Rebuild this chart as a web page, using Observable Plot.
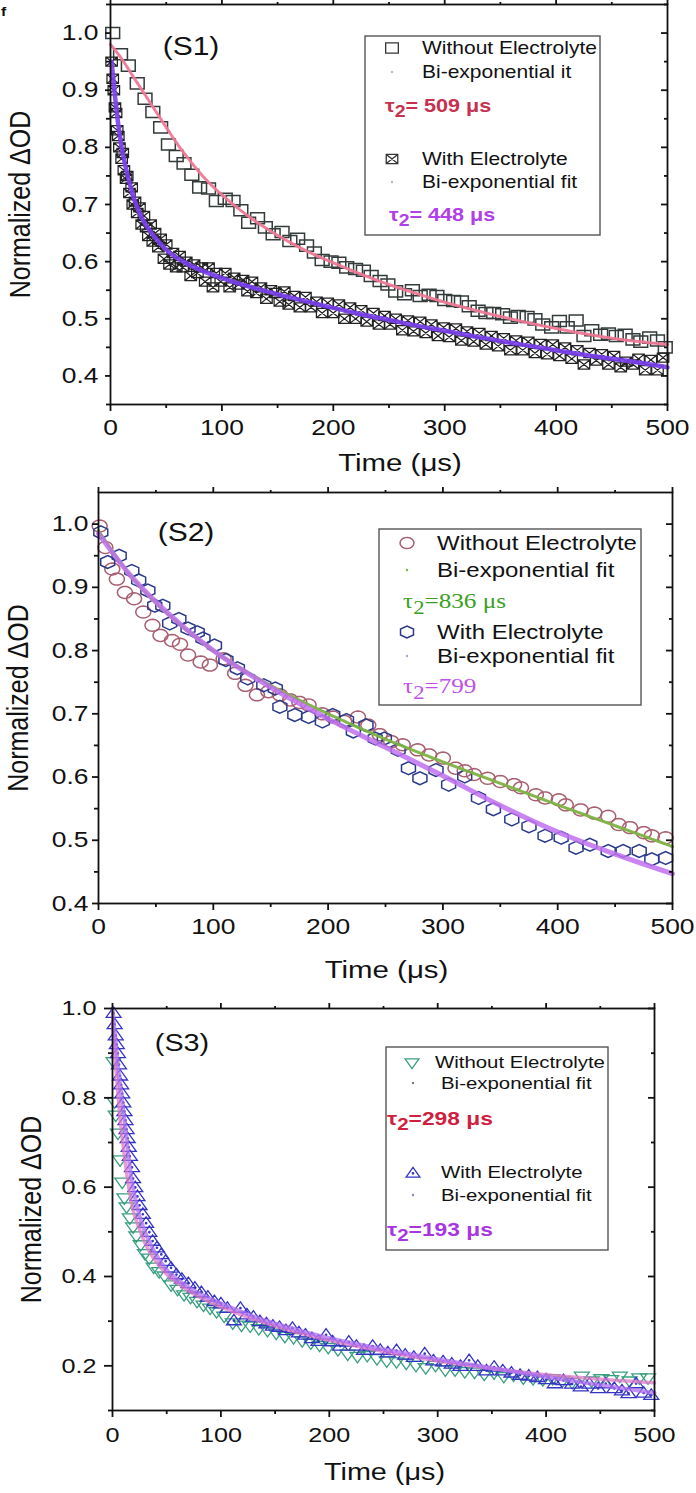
<!DOCTYPE html>
<html><head><meta charset="utf-8">
<script src="https://cdn.jsdelivr.net/npm/d3@7"></script>
<script src="https://cdn.jsdelivr.net/npm/@observablehq/plot@0.6"></script>
<style>
body{margin:0;background:#fff;}
#wrap{position:relative;width:696px;height:1493px;overflow:hidden;font-family:"Liberation Sans",Arial,sans-serif;background:#fff;}
</style></head><body><div id="wrap"></div>
<script>
// ---------- DATA ----------
const xTicks = [0, 100, 200, 300, 400, 500];
const xMinorTicks = [50, 150, 250, 350, 450];
const yTicksS1 = [0.4, 0.5, 0.6, 0.7, 0.8, 0.9, 1.0];
const yMinorS1 = [0.35, 0.45, 0.55, 0.65, 0.75, 0.85, 0.95, 1.05];
const yTicksS2 = [0.4, 0.5, 0.6, 0.7, 0.8, 0.9, 1.0];
const yMinorS2 = [0.45, 0.55, 0.65, 0.75, 0.85, 0.95];
const yTicksS3 = [0.2, 0.4, 0.6, 0.8, 1.0];
const yMinorS3 = [0.1, 0.3, 0.5, 0.7, 0.9];

// S1: without electrolyte (open squares) [time µs, normalized ΔOD]
const s1Without = [[2,1.0],[9,0.963],[16,0.943],[24,0.912],[31,0.885],[38,0.862],[45,0.835],[52,0.805],[59,0.785],[66,0.772],[73,0.752],[80,0.73],[88,0.728],[95,0.706],[103,0.71],[110,0.706],[117,0.69],[124,0.668],[132,0.676],[139,0.66],[146,0.648],[154,0.652],[161,0.636],[168,0.64],[176,0.628],[183,0.616],[190,0.603],[198,0.6],[205,0.598],[212,0.59],[220,0.587],[227,0.584],[234,0.575],[242,0.566],[249,0.56],[256,0.548],[264,0.543],[271,0.55],[278,0.54],[286,0.542],[293,0.54],[300,0.533],[308,0.531],[315,0.53],[322,0.522],[330,0.514],[337,0.51],[344,0.51],[352,0.508],[359,0.502],[366,0.505],[374,0.503],[381,0.499],[388,0.49],[396,0.485],[403,0.496],[410,0.485],[418,0.497],[425,0.47],[432,0.48],[440,0.472],[447,0.474],[454,0.47],[462,0.472],[469,0.464],[476,0.46],[484,0.467],[491,0.462],[498,0.45]];
// S1: with electrolyte (boxed X)
const s1With = [[1,0.95],[2,0.92],[3,0.9],[4,0.87],[5,0.86],[6,0.83],[7,0.82],[8,0.8],[10,0.78],[11,0.79],[12,0.76],[14,0.745],[15,0.75],[17,0.72],[19,0.73],[20,0.7],[22,0.705],[24,0.685],[26,0.695],[28,0.665],[30,0.68],[32,0.66],[34,0.645],[36,0.665],[38,0.635],[40,0.65],[43,0.625],[45,0.64],[48,0.605],[50,0.63],[53,0.595],[56,0.615],[59,0.59],[62,0.61],[65,0.59],[68,0.6],[72,0.575],[75,0.595],[78,0.58],[82,0.59],[85,0.565],[88,0.59],[92,0.555],[95,0.58],[99,0.565],[103,0.58],[107,0.555],[111,0.572],[115,0.56],[119,0.568],[123,0.548],[127,0.565],[131,0.545],[135,0.555],[140,0.535],[144,0.55],[148,0.545],[152,0.53],[156,0.548],[160,0.525],[165,0.54],[170,0.52],[175,0.538],[180,0.52],[185,0.53],[190,0.51],[195,0.528],[200,0.51],[205,0.525],[210,0.5],[215,0.52],[220,0.5],[225,0.515],[230,0.495],[236,0.51],[241,0.49],[246,0.505],[251,0.49],[256,0.5],[262,0.48],[267,0.497],[272,0.478],[278,0.495],[283,0.475],[288,0.49],[294,0.47],[299,0.485],[304,0.468],[310,0.483],[315,0.462],[320,0.478],[326,0.46],[331,0.475],[337,0.455],[342,0.47],[348,0.452],[353,0.466],[359,0.445],[364,0.462],[370,0.445],[375,0.46],[381,0.44],[386,0.456],[392,0.438],[397,0.455],[403,0.435],[408,0.45],[414,0.43],[419,0.445],[425,0.42],[430,0.44],[436,0.427],[441,0.438],[447,0.42],[452,0.435],[458,0.415],[463,0.425],[469,0.42],[474,0.43],[480,0.41],[485,0.428],[491,0.41],[496,0.432]];
const s1WithoutFit = [[0,0.98],[10,0.955],[20,0.925],[30,0.895],[40,0.865],[50,0.835],[60,0.806],[70,0.78],[80,0.756],[90,0.735],[100,0.717],[120,0.685],[140,0.658],[160,0.635],[180,0.615],[200,0.598],[225,0.578],[250,0.56],[275,0.544],[300,0.529],[325,0.516],[350,0.504],[375,0.493],[400,0.483],[425,0.474],[450,0.466],[475,0.46],[500,0.455]];
const s1WithFit = [[1,0.95],[2,0.93],[4,0.89],[6,0.855],[8,0.825],[10,0.8],[12,0.78],[14,0.762],[16,0.746],[18,0.731],[20,0.717],[25,0.69],[30,0.67],[35,0.655],[40,0.642],[45,0.631],[50,0.621],[60,0.606],[70,0.595],[80,0.586],[90,0.578],[100,0.571],[125,0.556],[150,0.543],[175,0.531],[200,0.519],[225,0.508],[250,0.498],[275,0.488],[300,0.479],[325,0.47],[350,0.461],[375,0.453],[400,0.445],[425,0.437],[450,0.43],[475,0.423],[500,0.415]];

// S2
const s2Without = [[1,0.997],[6,0.963],[12,0.929],[16,0.913],[23,0.892],[31,0.882],[39,0.861],[47,0.84],[54,0.824],[64,0.816],[71,0.81],[78,0.793],[89,0.782],[97,0.777],[109,0.787],[119,0.764],[128,0.745],[138,0.73],[148,0.735],[158,0.73],[167,0.722],[175,0.718],[183,0.714],[195,0.7],[204,0.695],[214,0.688],[226,0.695],[235,0.682],[245,0.667],[255,0.656],[265,0.651],[278,0.643],[288,0.635],[300,0.63],[311,0.614],[319,0.61],[327,0.604],[339,0.598],[350,0.593],[362,0.588],[368,0.583],[381,0.572],[389,0.567],[401,0.564],[407,0.556],[420,0.548],[432,0.543],[444,0.538],[453,0.525],[463,0.52],[475,0.512],[482,0.507],[494,0.504]];
const s2With = [[2,0.987],[8,0.94],[18,0.95],[29,0.926],[35,0.911],[43,0.895],[49,0.871],[56,0.871],[62,0.843],[70,0.85],[78,0.835],[86,0.829],[91,0.819],[101,0.808],[111,0.785],[121,0.772],[130,0.756],[144,0.745],[154,0.74],[158,0.711],[171,0.698],[183,0.695],[195,0.688],[204,0.698],[216,0.69],[222,0.672],[233,0.682],[241,0.661],[249,0.661],[261,0.643],[270,0.614],[280,0.598],[294,0.611],[305,0.588],[319,0.601],[331,0.567],[344,0.549],[360,0.533],[375,0.522],[389,0.507],[403,0.504],[416,0.488],[428,0.493],[444,0.483],[457,0.483],[471,0.483],[482,0.47],[494,0.472]];
const s2WithoutFit = [[0,0.99],[25,0.925],[50,0.875],[75,0.835],[100,0.8],[150,0.745],[200,0.7],[250,0.66],[300,0.624],[350,0.59],[400,0.556],[450,0.523],[500,0.49]];
const s2WithFit = [[0,0.985],[25,0.925],[50,0.877],[75,0.836],[100,0.8],[150,0.742],[200,0.692],[250,0.647],[300,0.602],[350,0.555],[400,0.513],[450,0.478],[500,0.447]];

// S3
const s3Without = [[1,0.88],[2,0.79],[3,0.76],[5,0.72],[7,0.66],[9,0.61],[11,0.575],[13,0.555],[16,0.53],[19,0.51],[22,0.49],[26,0.47],[30,0.45],[34,0.44],[38,0.42],[43,0.41],[48,0.4],[54,0.38],[60,0.37],[66,0.358],[72,0.352],[78,0.343],[84,0.335],[90,0.328],[96,0.32],[103,0.31],[111,0.295],[119,0.29],[127,0.288],[135,0.282],[143,0.278],[151,0.272],[159,0.265],[167,0.262],[175,0.255],[183,0.25],[191,0.245],[199,0.24],[208,0.235],[217,0.225],[226,0.22],[235,0.222],[244,0.215],[253,0.21],[262,0.208],[271,0.205],[280,0.2],[289,0.195],[298,0.2],[307,0.19],[316,0.19],[325,0.186],[334,0.185],[343,0.18],[352,0.183],[361,0.175],[370,0.178],[379,0.172],[388,0.17],[397,0.168],[406,0.17],[415,0.165],[424,0.162],[433,0.176],[442,0.165],[451,0.17],[460,0.168],[468,0.176],[477,0.165],[486,0.172],[494,0.172]];
const s3With = [[1,0.99],[2,0.965],[3,0.94],[4,0.92],[5,0.9],[6,0.875],[7,0.85],[8,0.83],[9,0.81],[10,0.79],[11,0.77],[12,0.75],[13,0.73],[14,0.71],[15,0.69],[16,0.67],[18,0.645],[19,0.62],[21,0.6],[23,0.58],[25,0.56],[28,0.54],[31,0.52],[34,0.5],[37,0.48],[41,0.465],[45,0.45],[49,0.435],[54,0.42],[59,0.405],[64,0.395],[70,0.385],[76,0.375],[82,0.365],[88,0.355],[94,0.345],[100,0.34],[106,0.33],[112,0.302],[118,0.33],[124,0.315],[130,0.31],[136,0.3],[142,0.295],[148,0.29],[154,0.287],[160,0.28],[166,0.285],[172,0.275],[178,0.27],[184,0.262],[190,0.256],[197,0.27],[203,0.255],[210,0.245],[218,0.254],[225,0.245],[232,0.236],[240,0.245],[247,0.236],[254,0.23],[262,0.235],[270,0.225],[278,0.22],[288,0.228],[296,0.212],[305,0.21],[313,0.205],[321,0.2],[329,0.213],[337,0.2],[345,0.19],[352,0.198],[360,0.19],[368,0.185],[376,0.18],[384,0.178],[392,0.175],[400,0.17],[408,0.161],[416,0.168],[424,0.16],[432,0.154],[440,0.16],[448,0.15],[455,0.161],[463,0.15],[470,0.145],[476,0.139],[483,0.161],[490,0.14],[497,0.135]];
const s3WithoutFit = [[0,0.97],[2,0.9],[4,0.84],[6,0.78],[8,0.73],[10,0.69],[12,0.65],[15,0.6],[18,0.56],[20,0.54],[25,0.505],[30,0.475],[35,0.452],[40,0.434],[50,0.405],[60,0.385],[70,0.368],[80,0.354],[100,0.332],[120,0.313],[140,0.297],[160,0.282],[180,0.269],[200,0.257],[225,0.244],[250,0.232],[275,0.221],[300,0.211],[325,0.202],[350,0.194],[375,0.187],[400,0.18],[425,0.175],[450,0.17],[475,0.166],[500,0.162]];
const s3WithFit = [[0,1.0],[2,0.95],[4,0.9],[6,0.85],[8,0.81],[10,0.77],[12,0.73],[15,0.665],[18,0.61],[20,0.585],[25,0.535],[30,0.5],[35,0.472],[40,0.45],[50,0.415],[60,0.393],[70,0.376],[80,0.362],[100,0.34],[120,0.32],[140,0.302],[160,0.288],[180,0.274],[200,0.262],[225,0.249],[250,0.237],[275,0.226],[300,0.215],[325,0.205],[350,0.195],[375,0.185],[400,0.175],[425,0.166],[450,0.157],[475,0.148],[500,0.139]];

// ---------- SYMBOLS ----------
const SX = 1.15, SY = 0.92;
const makeSym = fn => ({draw(c, size) { fn(c, Math.sqrt(size / Math.PI)); }});
const rectPath = (c, w, h) => { c.moveTo(-w,-h); c.lineTo(w,-h); c.lineTo(w,h); c.lineTo(-w,h); c.closePath(); };
const symSquare = makeSym((c, r) => rectPath(c, r*SX, r*SY));
const symBoxX = makeSym((c, r) => { const w=r*SX, h=r*SY; rectPath(c,w,h); c.moveTo(-w,-h); c.lineTo(w,h); c.moveTo(w,-h); c.lineTo(-w,h); });
const symEllipse = makeSym((c, r) => { const n=28; for (let i=0;i<n;i++){ const a=2*Math.PI*i/n, px=Math.cos(a)*r*SX, py=Math.sin(a)*r*SY; if(i) c.lineTo(px,py); else c.moveTo(px,py);} c.closePath(); });
const symHex = makeSym((c, r) => { for (let i=0;i<6;i++){ const a=Math.PI/2+i*Math.PI/3, px=Math.cos(a)*r*SX, py=Math.sin(a)*r*SY; if(i) c.lineTo(px,py); else c.moveTo(px,py);} c.closePath(); });
const symTriUp = makeSym((c, r) => { const w=r*SX, h=r*SY; c.moveTo(0,-h); c.lineTo(w,h*0.75); c.lineTo(-w,h*0.75); c.closePath(); c.moveTo(0.7,0.3); c.arc(0,0.3,0.7,0,2*Math.PI); });
const symTriDown = makeSym((c, r) => { const w=r*SX, h=r*SY; c.moveTo(0,h); c.lineTo(w,-h*0.75); c.lineTo(-w,-h*0.75); c.closePath(); });

// ---------- PANELS ----------
const wrap = document.getElementById("wrap");
const FONT = '"Liberation Sans", Arial, sans-serif';
const STRETCH = 1.2; // the reference lettering is horizontally widened
const X = d => d[0], Y = d => d[1];
const isNum = v => v != null && v !== "" && !isNaN(+v);

function widenText(svg) {
  svg.querySelectorAll("text").forEach(t => {
    let x = 0, y = 0;
    const ax = t.getAttribute("x"), ay = t.getAttribute("y");
    if (isNum(ax)) { x = +ax; t.removeAttribute("x"); }
    if (isNum(ay)) { y = +ay; t.removeAttribute("y"); }
    const tr = t.getAttribute("transform") || "";
    const sc = /rotate/.test(tr) ? `scale(1,${STRETCH})` : `scale(${STRETCH},1)`;
    t.setAttribute("transform", `${tr} translate(${x},${y}) ${sc}`);
  });
}

function panel(cfg) {
  const chart = Plot.plot({
    width: 696, height: cfg.height,
    marginLeft: cfg.ml, marginRight: cfg.mr, marginTop: cfg.mt, marginBottom: cfg.mb,
    x: {domain: [0, 500]},
    y: {domain: cfg.ydom},
    style: {fontFamily: FONT, fontSize: "22px", color: "#111", background: "transparent", overflow: "visible"},
    marks: [
      ...cfg.marks,
      Plot.frame({stroke: "#111", strokeWidth: 1.8}),
      Plot.axisX({ticks: xTicks, tickSize: 7, tickPadding: cfg.xpad, tickFormat: d => String(d), label: null, strokeWidth: 1.8, fontSize: cfg.tfs}),
      Plot.axisX({ticks: xMinorTicks, tickSize: 4, tickFormat: () => "", label: null, strokeWidth: 1.8}),
      Plot.axisX({anchor: "top", ticks: xTicks, tickSize: 6, tickFormat: () => "", label: null, strokeWidth: 1.8}),
      Plot.axisX({anchor: "top", ticks: xMinorTicks, tickSize: 3, tickFormat: () => "", label: null, strokeWidth: 1.8}),
      Plot.axisY({ticks: cfg.ymaj, tickSize: cfg.ytick, tickPadding: cfg.ypad, tickFormat: d3.format(".1f"), label: null, strokeWidth: 1.8, fontSize: cfg.tfs}),
      Plot.axisY({ticks: cfg.ymin, tickSize: 4, tickFormat: () => "", label: null, strokeWidth: 1.8}),
      Plot.axisY({anchor: "right", ticks: cfg.ymaj, tickSize: -7, tickFormat: () => "", label: null, strokeWidth: 1.8}),
      Plot.axisY({anchor: "right", ticks: cfg.ymin, tickSize: -4, tickFormat: () => "", label: null, strokeWidth: 1.8}),
      Plot.text(["Time (μs)"], {text: d => d, frameAnchor: "bottom", textAnchor: "middle", lineAnchor: "middle", dx: cfg.xldx, dy: cfg.xldy, fontSize: cfg.lfs, fill: "#111"}),
      Plot.text(["Normalized ΔOD"], {text: d => d, frameAnchor: "left", textAnchor: "middle", lineAnchor: "middle", rotate: -90, dx: cfg.yldx, fontSize: cfg.ylfs, fill: "#111"})
    ]
  });
  widenText(chart);
  chart.style.position = "absolute";
  chart.style.left = "0px";
  chart.style.top = cfg.top + "px";
  wrap.appendChild(chart);
}

panel({
  top: 0, height: 480, ml: 110, mr: 29, mt: 4, mb: 76, ydom: [0.35, 1.05],
  ymaj: yTicksS1, ymin: yMinorS1, ytick: 5, ypad: 7, xpad: 8, tfs: 22, lfs: 24.5, ylfs: 25,
  xldx: 11, xldy: 59, yldx: -90,
  marks: [
    Plot.dot(s1Without, {x: X, y: Y, symbol: symSquare, r: 6, stroke: "#333b3b", strokeWidth: 1.5, fill: "none"}),
    Plot.dot(s1With, {x: X, y: Y, symbol: symBoxX, r: 5, stroke: "#222", strokeWidth: 1.25, fill: "none"}),
    Plot.line(s1WithoutFit, {x: X, y: Y, stroke: "#ee7895", strokeWidth: 3, strokeOpacity: 0.95, strokeDasharray: "3,1.5", curve: "monotone-x"}),
    Plot.line(s1WithFit, {x: X, y: Y, stroke: "#7a3ff0", strokeWidth: 4.5, strokeOpacity: 0.9, curve: "monotone-x"})
  ]
});

panel({
  top: 480, height: 510, ml: 98, mr: 24, mt: 12, mb: 87, ydom: [0.4, 1.05],
  ymaj: yTicksS2, ymin: yMinorS2, ytick: 6, ypad: 4, xpad: 8, tfs: 22, lfs: 24.5, ylfs: 25,
  xldx: 1, xldy: 67, yldx: -80,
  marks: [
    Plot.dot(s2Without, {x: X, y: Y, symbol: symEllipse, r: 6.5, stroke: "#a86070", strokeWidth: 1.5, fill: "none"}),
    Plot.dot(s2With, {x: X, y: Y, symbol: symHex, r: 7, stroke: "#2a3a8a", strokeWidth: 1.5, fill: "none"}),
    Plot.line(s2WithoutFit, {x: X, y: Y, stroke: "#7cb342", strokeWidth: 3, strokeOpacity: 0.95, strokeDasharray: "3,1.5", curve: "monotone-x"}),
    Plot.line(s2WithFit, {x: X, y: Y, stroke: "#c070ee", strokeWidth: 5, strokeOpacity: 0.85, curve: "monotone-x"})
  ]
});

panel({
  top: 990, height: 503, ml: 112, mr: 42, mt: 18, mb: 83, ydom: [0.1, 1.0],
  ymaj: yTicksS3, ymin: yMinorS3, ytick: 8, ypad: 8, xpad: 10, tfs: 21, lfs: 24, ylfs: 25,
  xldx: 1, xldy: 62, yldx: -81,
  marks: [
    Plot.dot(s3Without, {x: X, y: Y, symbol: symTriDown, r: 6.5, stroke: "#3a9f80", strokeWidth: 1.3, fill: "none"}),
    Plot.dot(s3With, {x: X, y: Y, symbol: symTriUp, r: 6.5, stroke: "#3535c5", strokeWidth: 1.3, fill: "none"}),
    Plot.line(s3WithoutFit, {x: X, y: Y, stroke: "#e07ac8", strokeWidth: 3.5, strokeOpacity: 0.75, curve: "monotone-x"}),
    Plot.line(s3WithFit, {x: X, y: Y, stroke: "#b070f0", strokeWidth: 4, strokeOpacity: 0.75, curve: "monotone-x"})
  ]
});

// ---------- ANNOTATIONS (panel tags & legends) ----------
const ann = d3.select(wrap).append("svg")
  .attr("width", 696).attr("height", 1493)
  .style("position", "absolute").style("left", "0px").style("top", "0px")
  .attr("font-family", FONT);

function txt(x, y, s, size, opt = {}) {
  return ann.append("text").attr("transform", `translate(${x},${y}) scale(${STRETCH},1)`)
    .attr("dominant-baseline", "central")
    .attr("text-anchor", opt.anchor || "start")
    .attr("font-size", size).attr("fill", opt.fill || "#111")
    .attr("font-weight", opt.weight || "normal")
    .attr("font-family", opt.family || FONT).text(s);
}
function tau(x, y, rest, size, fill, family, weight) {
  const t = ann.append("text").attr("transform", `translate(${x},${y}) scale(${STRETCH},1)`)
    .attr("dominant-baseline", "central")
    .attr("font-size", size).attr("fill", fill).attr("font-family", family).attr("font-weight", weight);
  t.append("tspan").text("τ");
  t.append("tspan").attr("dy", size * 0.32).attr("font-size", size * 0.9).text("2");
  t.append("tspan").attr("dy", -size * 0.32).text(rest);
}
function box(x, y, w, h) {
  ann.append("rect").attr("x", x).attr("y", y).attr("width", w).attr("height", h)
    .attr("fill", "none").attr("stroke", "#555").attr("stroke-width", 1.4);
}
function marker(x, y, sym, r, stroke, sw) {
  ann.append("path").attr("transform", `translate(${x},${y})`)
    .attr("d", d3.symbol(sym, Math.PI * r * r)()).attr("fill", "none")
    .attr("stroke", stroke).attr("stroke-width", sw);
}
function dotm(x, y, fill) {
  ann.append("circle").attr("cx", x).attr("cy", y).attr("r", 1.2).attr("fill", fill);
}

txt(1, 11, "f", 13, {weight: "bold"});

// S1
txt(191, 46, "(S1)", 25, {anchor: "middle"});
box(365, 36, 235, 199);
marker(392, 48, symSquare, 5.5, "#333", 1.3);
txt(422, 48, "Without Electrolyte", 17.5);
dotm(392, 72, "#bbb");
txt(422, 72, "Bi-exponential  it", 17.5);
tau(385, 106, "= 509 μs", 18, "#c8304f", FONT, "bold");
marker(392, 159, symBoxX, 5, "#333", 1.3);
txt(422, 159, "With Electrolyte", 17.5);
dotm(392, 182, "#bbb");
txt(422, 182, "Bi-exponential fit", 17.5);
tau(389, 215, "= 448 μs", 18, "#b040e8", FONT, "bold");

// S2
txt(186, 532, "(S2)", 25, {anchor: "middle"});
box(379, 529, 262, 176);
marker(407, 543, symEllipse, 6, "#a86070", 1.5);
txt(437, 543, "Without Electrolyte", 20);
dotm(407, 570, "#7cb342");
txt(437, 570, "Bi-exponential fit", 20);
tau(403, 601, "=836 μs", 21, "#3aa020", '"Liberation Serif", serif', "normal");
marker(407, 632, symHex, 6.5, "#2a3a8a", 1.5);
txt(437, 632, "With Electrolyte", 20);
dotm(407, 656, "#b0a0d0");
txt(437, 656, "Bi-exponential fit", 20);
tau(403, 686, "=799", 21, "#c050e8", '"Liberation Serif", serif', "normal");

// S3
txt(182, 1043, "(S3)", 24, {anchor: "middle"});
box(386, 1047, 222, 203);
marker(412, 1063, symTriDown, 6, "#3a9f80", 1.3);
txt(435, 1062, "Without Electrolyte", 17);
dotm(413, 1083, "#777");
txt(441, 1083, "Bi-exponential fit", 17);
tau(387, 1118, "=298 μs", 19, "#d02040", FONT, "bold");
marker(413, 1173, symTriUp, 6, "#3535c5", 1.3);
txt(441, 1172, "With Electrolyte", 17);
dotm(413, 1195, "#9080c0");
txt(441, 1195, "Bi-exponential fit", 17);
tau(387, 1229, "=193 μs", 19, "#a835e0", FONT, "bold");
</script></body></html>
